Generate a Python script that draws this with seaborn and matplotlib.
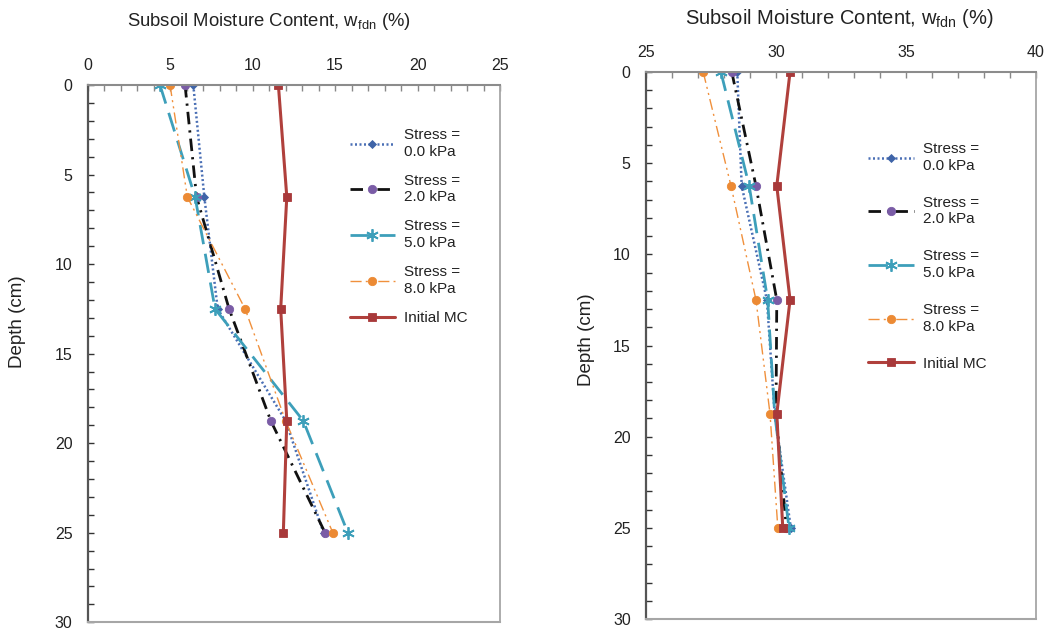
import matplotlib
matplotlib.use("Agg")
import matplotlib.pyplot as plt
from matplotlib.ticker import MultipleLocator
import seaborn as sns
import pandas as pd

# Depth of each sampling level (cm)
depth = [0, 6.25, 12.5, 18.75, 25]

# Moisture content profiles (%), test A (left panel)
a_stress_0 = [6.40, 7.07, 7.88, 12.0, 14.3]
a_stress_2 = [5.90, 6.60, 8.57, 11.10, 14.39]
a_stress_5 = [4.38, 6.51, 7.72, 13.07, 15.77]
a_stress_8 = [4.99, 6.04, 9.54, 12.0, 14.86]
a_initial = [11.56, 12.07, 11.70, 12.07, 11.86]

# Moisture content profiles (%), test B (right panel)
b_stress_0 = [28.51, 28.68, 29.65, 29.95, 30.57]
b_stress_2 = [28.30, 29.23, 30.03, 30.00, 30.40]
b_stress_5 = [27.88, 28.97, 29.68, 29.95, 30.50]
b_stress_8 = [27.20, 28.27, 29.23, 29.77, 30.07]
b_initial = [30.54, 30.03, 30.54, 30.03, 30.26]

series_labels = ["Stress =\n0.0 kPa", "Stress =\n2.0 kPa", "Stress =\n5.0 kPa",
                 "Stress =\n8.0 kPa", "Initial MC"]
x_title = r"Subsoil Moisture Content, w$_{\mathrm{fdn}}$ (%)"
y_title = "Depth (cm)"

sns.set_theme(style="white")
plt.rcParams["font.family"] = ["Liberation Sans", "DejaVu Sans"]
plt.rcParams["mathtext.fontset"] = "custom"
plt.rcParams["mathtext.rm"] = "Liberation Sans"
plt.rcParams["mathtext.it"] = "Liberation Sans:italic"

styles = [
    dict(color="#4a6fb5", lw=1.8, dashes=(0.8, 1.0), marker="D", ms=4.0,
         mfc="#3f64a8", mec="#3f64a8"),
    dict(color="#111111", lw=2.0, dashes=(4.5, 2.2, 0.8, 2.2), marker="o", ms=6.0,
         mfc="#7a5ca6", mec="#7a5ca6"),
    dict(color="#3d9fba", lw=2.0, dashes=(7, 3.5), marker=(6, 2, 0), ms=9,
         mfc="#3d9fba", mec="#3d9fba", mew=1.3),
    dict(color="#f0903c", lw=1.0, dashes=(8, 3, 1.5, 3, 1.5, 3), marker="o", ms=6.0,
         mfc="#ec8a34", mec="#ec8a34"),
    dict(color="#b0403c", lw=2.2, dashes=None, marker="s", ms=5.5,
         mfc="#a8393a", mec="#a8393a"),
]


def draw_panel(ax, profiles, xlim, title_size, xlabel_xy, ylabel_xy, legend_xy,
               label_gap):
    handles = []
    for vals, lab, st in zip(profiles, series_labels, styles):
        df = pd.DataFrame({"mc": vals, "depth": depth})
        kw = dict(color=st["color"], linewidth=st["lw"], marker=st["marker"],
                  markersize=st["ms"], markerfacecolor=st["mfc"],
                  markeredgecolor=st["mec"], markeredgewidth=st.get("mew", 0.6))
        if st["dashes"] is not None:
            kw["dashes"] = st["dashes"]
        sns.lineplot(data=df, x="mc", y="depth", sort=False, estimator=None,
                     ax=ax, label=lab, legend=False, **kw)
        handles.append(ax.get_lines()[-1])

    ax.set_xlim(*xlim)
    ax.set_ylim(30, 0)
    ax.xaxis.tick_top()
    ax.xaxis.set_label_position("top")
    ax.xaxis.set_major_locator(MultipleLocator(5))
    ax.xaxis.set_minor_locator(MultipleLocator(1))
    ax.yaxis.set_major_locator(MultipleLocator(5))
    ax.yaxis.set_minor_locator(MultipleLocator(1))
    ax.tick_params(axis="x", which="both", direction="in", top=True, bottom=False,
                   length=4, width=1, color="#888888", labelsize=11.5,
                   labelcolor="#222222", pad=9)
    ax.tick_params(axis="y", which="both", direction="in", left=True, right=False,
                   length=4, width=1, color="#333333", labelsize=11.5,
                   labelcolor="#222222", pad=11)

    for side, col, w in [("left", "#555555", 1.6), ("top", "#8c8c8c", 1.5),
                         ("right", "#a6a6a6", 1.3), ("bottom", "#a6a6a6", 1.5)]:
        ax.spines[side].set_visible(True)
        ax.spines[side].set_color(col)
        ax.spines[side].set_linewidth(w)

    ax.set_xlabel(x_title, fontsize=title_size, color="#222222")
    ax.xaxis.set_label_coords(*xlabel_xy)
    ax.set_ylabel(y_title, fontsize=13.5, color="#222222")
    ax.yaxis.set_label_coords(*ylabel_xy)

    leg = ax.legend(handles=handles, labels=series_labels, loc="upper left",
                    bbox_to_anchor=legend_xy, frameon=False, fontsize=11,
                    handlelength=3.0, handletextpad=0.55, labelspacing=label_gap,
                    borderaxespad=0, borderpad=0)
    for t in leg.get_texts():
        t.set_color("#222222")
        t.set_linespacing(1.25)


fig = plt.figure(figsize=(10.47, 6.35), dpi=100)
ax_a = fig.add_axes([0.0838, 0.0200, 0.3938, 0.8461])
ax_b = fig.add_axes([0.6170, 0.0252, 0.3725, 0.8614])

draw_panel(ax_a, [a_stress_0, a_stress_2, a_stress_5, a_stress_8, a_initial],
           (0, 25), 13.3, (0.44, 1.11), (-0.15, 0.56), (0.635, 0.92), 0.98)
draw_panel(ax_b, [b_stress_0, b_stress_2, b_stress_5, b_stress_8, b_initial],
           (25, 40), 14.5, (0.495, 1.088), (-0.13, 0.51), (0.57, 0.872), 1.5)

fig.savefig("out.png", dpi=100, facecolor="white")
